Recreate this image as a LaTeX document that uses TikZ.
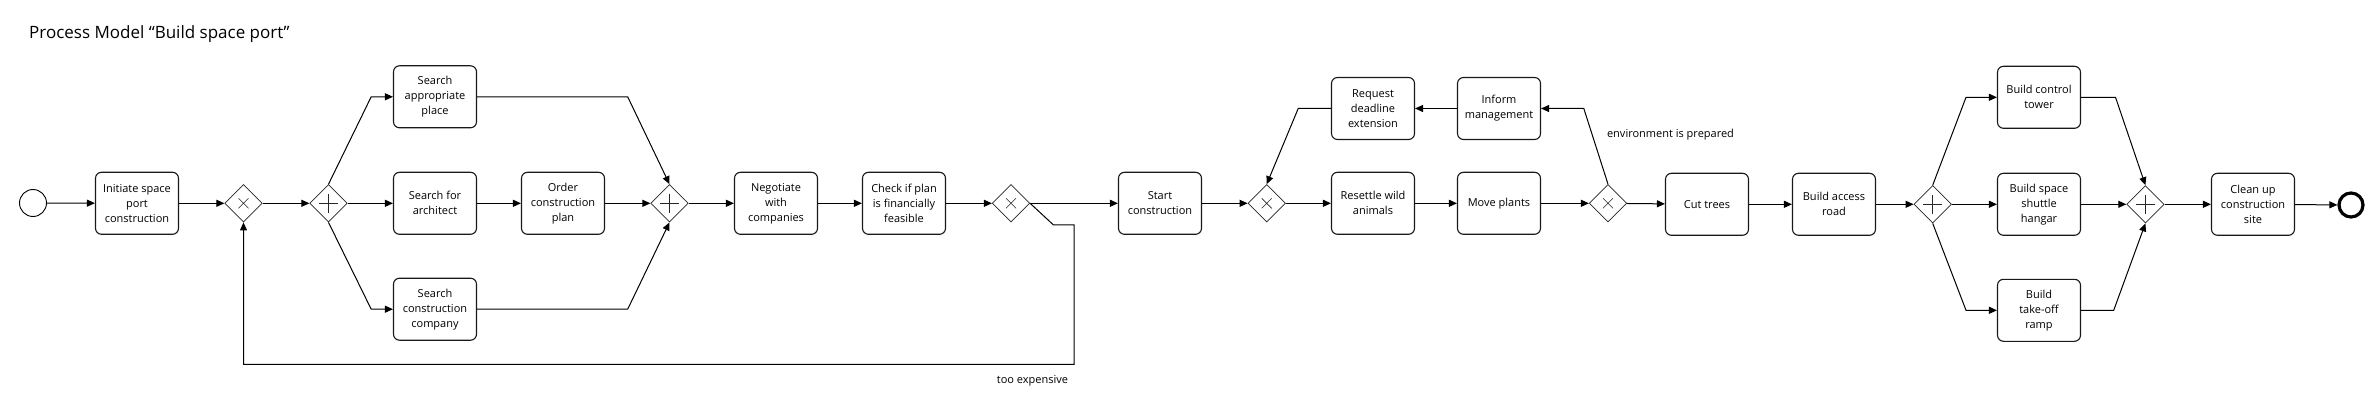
\documentclass[tikz,border=0pt]{standalone}
\usepackage{fontspec}
\setmainfont{Open Sans}
\usetikzlibrary{shapes.geometric,arrows.meta}
\begin{document}
\begin{tikzpicture}[x=1pt,y=-1pt,
  task/.style={draw=black!90, line width=1.1pt, rounded corners=6pt, minimum width=83pt, minimum height=62pt, align=center, inner sep=1pt, font=\fontsize{11}{15}\selectfont},
  gw/.style={draw=black!85, diamond, aspect=1, minimum width=37.5pt, minimum height=37.5pt, inner sep=0pt, line width=0.7pt},
  xorgw/.style={gw, path picture={\draw[line width=0.6pt] (path picture bounding box.center) ++(-5,-5) -- ++(10,10) ++(-10,0) -- ++(10,-10);}},
  andgw/.style={gw, path picture={\draw[line width=1.1pt] (path picture bounding box.center) ++(-9.5,0) -- ++(19,0) ++(-9.5,-9.5) -- ++(0,19);}},
  flow/.style={line width=1pt, -{Triangle[length=8pt,width=7pt]}},
  line/.style={line width=1pt},
  lbl/.style={font=\fontsize{11}{15}\selectfont, inner sep=0pt}
]
\useasboundingbox[fill=white] (0,0) rectangle (2378,406);

\node[anchor=base west, inner sep=0pt, font=\fontsize{17}{20}\selectfont] (title) at (29,39) {Process Model “Build space port”};

\node[draw, circle, line width=0.9pt, minimum size=27pt, inner sep=0pt] (start) at (33,203) {};
\node[task] (t1) at (137,203.3) {Initiate space\\port\\construction};
\node[xorgw] (x1) at (243.5,203.3) {};
\node[andgw] (a1) at (328.5,203.3) {};
\node[task] (t2) at (435,96.8) {Search\\appropriate\\place};
\node[task] (t3) at (435,203.3) {Search for\\architect};
\node[task] (t4) at (435,309.2) {Search\\construction\\company};
\node[task] (t5) at (563,203.3) {Order\\construction\\plan};
\node[andgw] (a2) at (669.5,203.3) {};
\node[task] (t6) at (776,203.3) {Negotiate\\with\\companies};
\node[task] (t7) at (904,203.3) {Check if plan\\is financially\\feasible};
\node[xorgw] (x2) at (1011,203.3) {};
\node[task] (t8) at (1160,203.3) {Start\\construction};
\node[xorgw] (x3) at (1266.7,203.3) {};
\node[task] (t9) at (1373,203.3) {Resettle wild\\animals};
\node[task] (t10) at (1373,108.5) {Request\\deadline\\extension};
\node[task] (t11) at (1499,108.5) {Inform\\management};
\node[task] (t12) at (1499,203.3) {Move plants};
\node[xorgw] (x4) at (1608,203.3) {};
\node[task] (t13) at (1707,204.3) {Cut trees};
\node[task] (t14) at (1834,204.3) {Build access\\road};
\node[andgw] (a3) at (1932.7,204.3) {};
\node[task] (t15) at (2039,97.3) {Build control\\tower};
\node[task] (t16) at (2039,204.3) {Build space\\shuttle\\hangar};
\node[task] (t17) at (2039,310.3) {Build\\take-off\\ramp};
\node[andgw] (a4) at (2145.4,204.3) {};
\node[task] (t18) at (2253,204.3) {Clean up\\construction\\site};
\node[draw, circle, line width=3.2pt, minimum size=24pt, inner sep=0pt] (end) at (2351,205) {};

\node[lbl] (lexp) at (1032.5,381) {too expensive};
\node[lbl] (lenv) at (1670.5,135) {environment is prepared};

\draw[flow] (start) -- (t1);
\draw[flow] (t1) -- (x1);
\draw[flow] (x1) -- (a1);
\draw[flow] (a1.north) -- (371.2,96.8) -- (t2.west);
\draw[flow] (a1) -- (t3);
\draw[flow] (a1.south) -- (371.2,309.2) -- (t4.west);
\draw[flow] (t3) -- (t5);
\draw[flow] (t2.east) -- (627.7,96.8) -- (a2.north);
\draw[flow] (t5) -- (a2);
\draw[flow] (t4.east) -- (627.7,309.2) -- (a2.south);
\draw[flow] (a2) -- (t6);
\draw[flow] (t6) -- (t7);
\draw[flow] (t7) -- (x2);
\draw[flow] (x2) -- (t8);
\draw[flow] (x2.east) -- (1053.5,225) -- (1074,225) -- (1074,364.3) -- (243.5,364.3) -- (x1.south);
\draw[flow] (t8) -- (x3);
\draw[flow] (x3) -- (t9);
\draw[flow] (t9) -- (t12);
\draw[flow] (t12) -- (x4);
\draw[flow] (x4) -- (t13);
\draw[flow] (x4.north) -- (1583.8,108.5) -- (t11.east);
\draw[flow] (t11) -- (t10);
\draw[flow] (t10.west) -- (1298.2,108.5) -- (x3.north);
\draw[flow] (t13) -- (t14);
\draw[flow] (t14) -- (a3);
\draw[flow] (a3.north) -- (1966,97.3) -- (t15.west);
\draw[flow] (a3) -- (t16);
\draw[flow] (a3.south) -- (1966,310.3) -- (t17.west);
\draw[flow] (t15.east) -- (2115.5,97.3) -- (a4.north);
\draw[flow] (t16) -- (a4);
\draw[flow] (t17.east) -- (2113.7,310.3) -- (a4.south);
\draw[flow] (a4) -- (t18);
\draw[flow] (t18) -- (end);
\end{tikzpicture}
\end{document}
